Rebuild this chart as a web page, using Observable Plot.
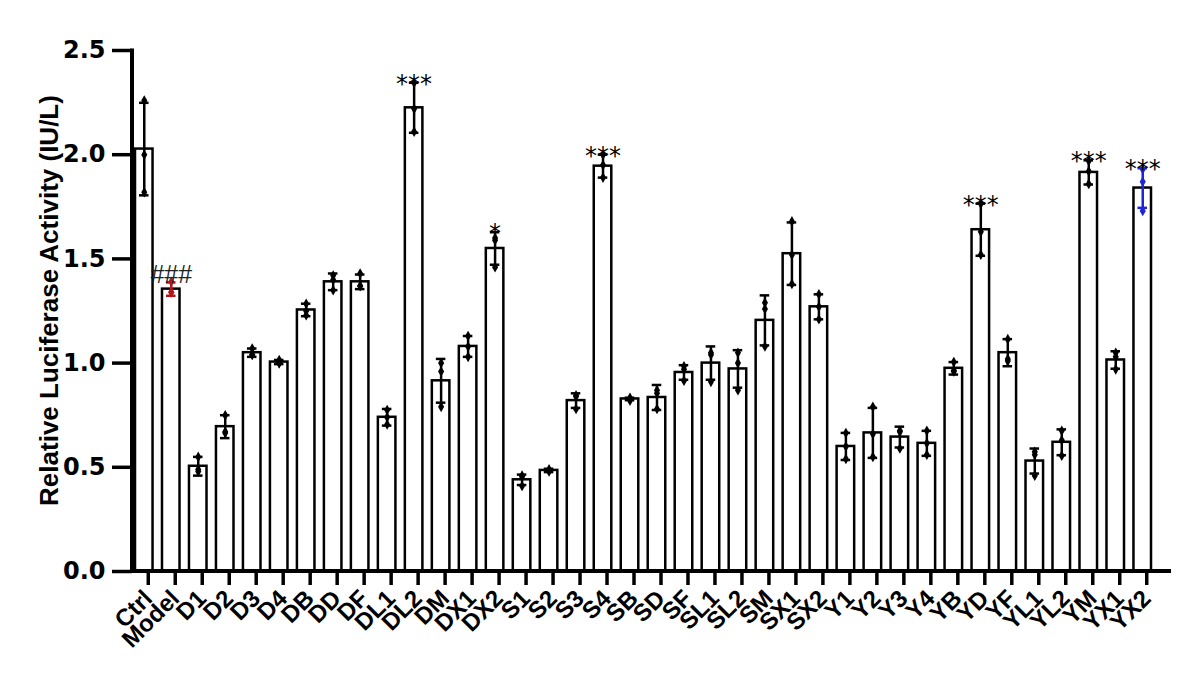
<!DOCTYPE html>
<html><head><meta charset="utf-8">
<script src="https://cdn.jsdelivr.net/npm/d3@7"></script>
<script src="https://cdn.jsdelivr.net/npm/@observablehq/plot@0.6"></script>
<style>
body{margin:0;background:#fff}
#chart svg{display:block}
#chart [aria-label="y-axis tick label"], #chart [aria-label="x-axis tick label"]{font-weight:bold}
</style>
</head><body><div id="chart"></div>
<script>
const groups = ["Ctrl","Model","D1","D2","D3","D4","DB","DD","DF","DL1","DL2","DM","DX1","DX2","S1","S2","S3","S4","SB","SD","SF","SL1","SL2","SM","SX1","SX2","Y1","Y2","Y3","Y4","YB","YD","YF","YL1","YL2","YM","YX1","YX2"];
const means = [2.027,1.355,0.505,0.695,1.05,1.005,1.255,1.39,1.39,0.74,2.225,0.915,1.08,1.55,0.44,0.485,0.82,1.945,0.828,0.835,0.955,1.0,0.972,1.205,1.525,1.27,0.60,0.665,0.645,0.615,0.975,1.64,1.05,0.53,0.62,1.915,1.015,1.84];
const sds   = [0.222,0.032,0.045,0.055,0.02,0.01,0.03,0.04,0.035,0.04,0.12,0.105,0.05,0.078,0.025,0.008,0.035,0.055,0.006,0.06,0.035,0.08,0.09,0.12,0.15,0.06,0.065,0.12,0.05,0.06,0.03,0.125,0.065,0.06,0.062,0.058,0.042,0.095];
const rep1  = [2.26,1.39,0.55,0.75,1.07,1.015,1.285,1.42,1.43,0.775,2.345,1.0,1.13,1.60,0.46,0.49,0.845,2.0,0.833,0.87,0.985,1.05,1.05,1.29,1.68,1.33,0.665,0.79,0.675,0.675,1.005,1.765,1.115,0.575,0.675,1.97,1.05,1.93];
const rep2  = [2.0,1.34,0.49,0.67,1.04,1.0,1.25,1.40,1.37,0.74,2.22,0.96,1.08,1.59,0.455,0.485,0.84,1.95,0.83,0.855,0.97,1.04,1.0,1.26,1.52,1.27,0.60,0.66,0.67,0.615,0.965,1.63,1.02,0.56,0.63,1.92,1.03,1.87];
const rep3  = [1.82,1.34,0.48,0.665,1.04,1.0,1.23,1.35,1.37,0.705,2.11,0.79,1.03,1.46,0.41,0.48,0.78,1.89,0.82,0.78,0.915,0.91,0.87,1.08,1.38,1.21,0.54,0.55,0.59,0.56,0.96,1.52,1.01,0.46,0.555,1.86,0.97,1.73];
const sigLabels = ["","###","","","","","","","","","***","","","*","","","","***","","","","","","","","","","","","","","***","","","","***","","***"];
const errColors = groups.map(g => g === "Model" ? "#b3161c" : g === "YX2" ? "#1f24d8" : "#000000");
const yTicks = [0, 0.5, 1.0, 1.5, 2.0, 2.5];
const yTitle = "Relative Luciferase Activity (IU/L)";

const rows = groups.map((g, i) => ({g, mean: means[i], lo: means[i] - sds[i], hi: means[i] + sds[i], sig: sigLabels[i], color: errColors[i]}));
const pts = groups.flatMap((g, i) => [rep1[i], rep2[i], rep3[i]].map((v, k) => ({g, v, k, color: errColors[i]})));

const ARIAL = "'Liberation Sans', Arial, Helvetica, sans-serif";
const WIDE = "'DejaVu Sans', 'Liberation Sans', Arial, sans-serif";

function axisLines(index, scales, values, dims) {
  const g = d3.create("svg:g");
  const y0 = scales.y(0), yTop = scales.y(2.5);
  const xl = dims.marginLeft;
  g.append("line").attr("x1", xl).attr("x2", xl).attr("y1", yTop - 1.5).attr("y2", y0 + 2)
    .attr("stroke", "black").attr("stroke-width", 4);
  g.append("line").attr("x1", xl - 2).attr("x2", dims.width - dims.marginRight).attr("y1", y0).attr("y2", y0)
    .attr("stroke", "black").attr("stroke-width", 4);
  g.append("text").attr("transform", `translate(49,${(y0 + yTop) / 2 - 10}) rotate(-90)`)
    .attr("text-anchor", "middle").attr("dominant-baseline", "central")
    .attr("font-family", ARIAL).attr("font-weight", "bold").attr("font-size", 26)
    .attr("fill", "black").text(yTitle);
  return g.node();
}

const chart = Plot.plot({
  width: 1192, height: 685,
  marginLeft: 132, marginRight: 21, marginTop: 50, marginBottom: 114,
  style: {fontFamily: ARIAL, background: "#fff", overflow: "visible"},
  color: {type: "identity"},
  x: {domain: groups, range: [135, 1151], paddingInner: 0.35, paddingOuter: 0, label: null},
  y: {domain: [0, 2.5], label: null},
  marks: [
    Plot.barY(rows, {x: "g", y: "mean", fill: "white", stroke: "black", strokeWidth: 2.5}),
    Plot.ruleX(rows, {x: "g", y1: "lo", y2: "hi", stroke: "color", strokeWidth: 2.5}),
    Plot.tickY(rows, {x: "g", y: "hi", stroke: "color", strokeWidth: 2.5, insetLeft: 4, insetRight: 4}),
    Plot.tickY(rows, {x: "g", y: "lo", stroke: "color", strokeWidth: 2.5, insetLeft: 4, insetRight: 4}),
    Plot.dot(pts, {x: "g", y: "v", fill: "color", symbol: "diamond", r: 3.2}),
    Plot.text(rows.filter(d => d.sig === "###"), {x: "g", y: "hi", text: "sig", fill: "#222", fontFamily: ARIAL, fontSize: 25, lineAnchor: "bottom", dy: 1}),
    Plot.text(rows.filter(d => d.sig && d.sig !== "###"), {x: "g", y: "hi", text: "sig", fill: "#000", fontFamily: WIDE, fontSize: 24, lineAnchor: "bottom", dy: 9}),
    Plot.axisY({ticks: yTicks, tickFormat: d3.format(".1f"), tickSize: 20, strokeWidth: 3.5, fontFamily: WIDE, fontSize: 24, fontWeight: "bold", tickPadding: 7, label: null}),
    Plot.axisX({tickSize: 14, strokeWidth: 3.5, tickRotate: -45, fontFamily: ARIAL, fontSize: 24, fontWeight: "bold", tickPadding: 9, dx: 4, label: null}),
    axisLines
  ]
});
document.getElementById("chart").appendChild(chart);
</script>
</body></html>
